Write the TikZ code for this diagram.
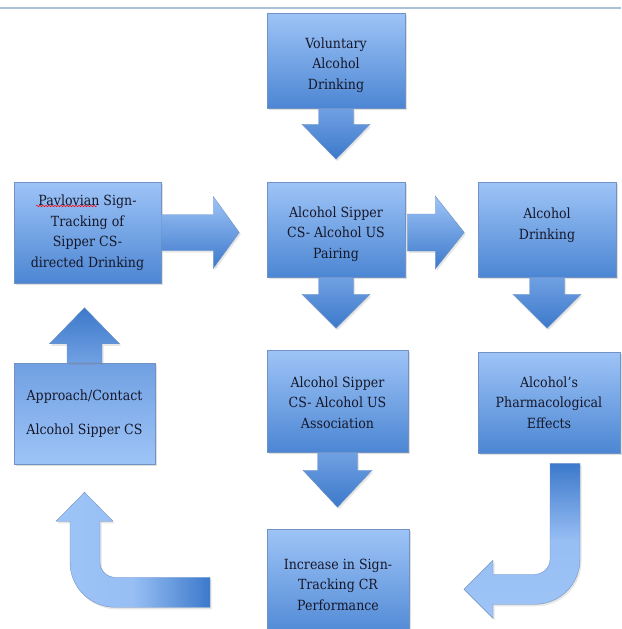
\documentclass[tikz,border=0pt]{standalone}
\usepackage{fontspec}
\setmainfont{DejaVu Serif}[FakeStretch=0.9]
\usetikzlibrary{shadows,decorations.pathmorphing}

\definecolor{boxtop}{RGB}{158,196,247}
\definecolor{boxbot}{RGB}{76,134,211}
\definecolor{arrmid}{RGB}{112,160,226}
\definecolor{arrdark}{RGB}{60,121,203}
\definecolor{edgeblue}{RGB}{112,146,196}
\definecolor{textnavy}{RGB}{22,24,42}
\definecolor{rulegray}{RGB}{170,192,216}

\begin{document}
\begin{tikzpicture}[x=1pt, y=-1pt,
        box/.style={rectangle, draw=edgeblue, line width=0.5pt, top color=boxtop, bottom color=boxbot, text=textnavy, align=center, inner sep=2pt, font=\fontsize{14}{20.5}\selectfont, drop shadow={shadow xshift=1.5pt, shadow yshift=-2pt, opacity=0.25}},
        flipbox/.style={box, top color=arrmid, bottom color=boxtop},
        downarr/.style={draw=edgeblue, line width=0.4pt, top color=arrmid, bottom color=arrdark, drop shadow={shadow xshift=1.5pt, shadow yshift=-2pt, opacity=0.2}},
        uparr/.style={downarr, top color=arrdark, bottom color=arrmid},
        rightarr/.style={downarr, top color=boxtop, bottom color=arrdark},
        bentright/.style={downarr, top color=arrdark, bottom color=boxtop, middle color=boxtop!85!arrmid},
        bentleft/.style={downarr, left color=boxtop, right color=arrdark, middle color=boxtop!85!arrmid},]

        \useasboundingbox (0,0) rectangle (621,629);
        \draw[rulegray, line width=1.2pt] (0,8) -- (621,8);

        % Boxes
        \node[box, minimum width=138pt, minimum height=95pt]  (vol)   at (336,60.5)   {\rule{0pt}{20pt}Voluntary\\Alcohol\\Drinking};
        \node[box, minimum width=147pt, minimum height=101pt] (pav)   at (87.5,232.5) {Pavlovian Sign-\\Tracking of\\Sipper CS-\\directed Drinking};
        \node[box, minimum width=138pt, minimum height=95pt]  (pair)  at (336,229.5)  {\rule{0pt}{20pt}Alcohol Sipper\\CS- Alcohol US\\Pairing};
        \node[box, minimum width=138pt, minimum height=95pt]  (drink) at (547,229.5)  {Alcohol\\Drinking\rule[-12pt]{0pt}{0pt}};
        \node[flipbox, minimum width=141pt, minimum height=101pt] (appr) at (84.5,413.5) {Approach/Contact\\[14pt]Alcohol Sipper CS};
        \node[box, minimum width=141pt, minimum height=102pt] (assoc) at (337.5,401)  {\rule{0pt}{14pt}Alcohol Sipper\\CS- Alcohol US\\Association};
        \node[box, minimum width=142pt, minimum height=101pt] (pharm) at (549,402.5)  {Alcohol's\\Pharmacological\\Effects};
        \node[box, minimum width=142pt, minimum height=111pt] (incr)  at (338,584.5)  {Increase in Sign-\\Tracking CR\\Performance};

        % spell-check mark
        \draw[red, line width=0.5pt, decorate, decoration={snake, amplitude=0.7pt, segment length=3pt}] (36,206) -- (97,206);

        % Arrows
        \path[downarr, shift={(vol.south)}] (-17.5,0) -- (-17.5,16) -- (-34,16) -- (0,51) -- (34,16) -- (17.5,16) -- (17.5,0) -- cycle;
        \path[downarr, shift={(pair.south)}] (-17.5,0) -- (-17.5,17) -- (-34,17) -- (0,51) -- (34,17) -- (17.5,17) -- (17.5,0) -- cycle;
        \path[downarr, shift={(drink.south)}] (-17.5,0) -- (-17.5,17) -- (-34,17) -- (0,51) -- (34,17) -- (17.5,17) -- (17.5,0) -- cycle;
        \path[downarr, shift={(assoc.south)}] (-20,0) -- (-20,18) -- (-34.5,18) -- (0,55) -- (34.5,18) -- (20,18) -- (20,0) -- cycle;
        \path[uparr, shift={(appr.north)}] (-17.5,0) -- (-17.5,-19) -- (-35,-19) -- (0,-55) -- (35,-19) -- (17.5,-19) -- (17.5,0) -- cycle;
        \path[rightarr, shift={(pav.east)}] (0,-18) -- (52,-18) -- (52,-36) -- (78,0) -- (52,36) -- (52,18) -- (0,18) -- cycle;
        \path[rightarr, shift={(pair.east)}] (2,-15.5) -- (30,-15.5) -- (30,-33.5) -- (59,3) -- (30,39.5) -- (30,21.5) -- (2,21.5) -- cycle;
        \path[bentright, shift={(pharm.south)}] (1,10) -- (31,10) -- (31,106) .. controls (31,130.9) and (10.9,151) .. (-14,151) -- (-56,151) -- (-56,165) -- (-85,136) -- (-56,107) -- (-56,121) -- (-14,121) .. controls (-5.7,121) and (1,114.3) .. (1,106) -- cycle;
        \path[bentleft, shift={(appr.south)}] (125.5,113) -- (30.5,113) .. controls (22.2,113) and (15.5,106.3) .. (15.5,98) -- (15.5,57) -- (28.5,57) -- (0,28) -- (-28.5,57) -- (-14.5,57) -- (-14.5,98) .. controls (-14.5,122.9) and (5.6,143) .. (30.5,143) -- (125.5,143) -- cycle;
    \end{tikzpicture}
\end{document}
